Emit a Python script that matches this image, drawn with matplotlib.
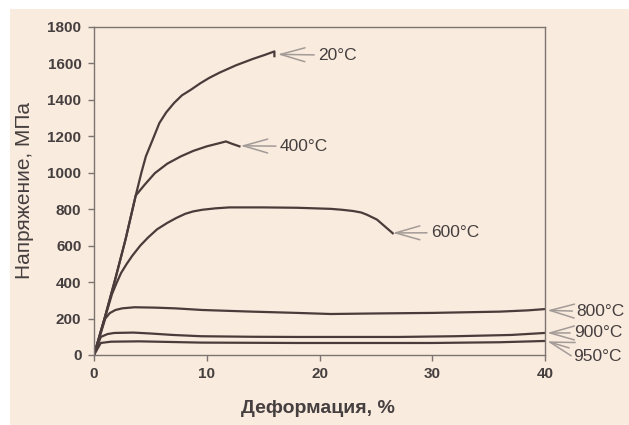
import matplotlib
matplotlib.use("Agg")
import matplotlib.pyplot as plt
from matplotlib.patches import Rectangle

plt.rcParams['font.family'] = ['Liberation Sans', 'DejaVu Sans']

# curves: strain, % / stress, MPa
eps_20 = [0, 1.0, 1.9, 2.8, 3.7, 4.2, 4.6, 5.2, 5.8, 6.4, 7.1, 7.8, 8.6, 9.4, 10.2,
          11.15, 12.6, 14.1, 15.2, 16.0, 16.0]
sig_20 = [0, 215, 420, 635, 875, 1000, 1090, 1181, 1273, 1331, 1383, 1425, 1456, 1490, 1520,
          1550, 1590, 1625, 1648, 1666, 1640]

eps_400 = [0, 1.0, 1.9, 2.8, 3.7, 4.5, 5.4, 6.5, 7.7, 8.8, 10.0, 11.15, 11.7, 12.2, 12.9]
sig_400 = [0, 215, 420, 635, 875, 935, 998, 1050, 1090, 1120, 1145, 1163, 1172, 1160, 1145]

eps_600 = [0, 1.0, 1.6, 2.0, 2.4, 2.9, 3.4, 4.1, 4.8, 5.6, 6.5, 7.3, 8.1, 8.8, 9.6, 10.8,
           12, 15, 18, 21, 22, 23, 23.7, 24.2, 25.1, 26.5]
sig_600 = [0, 210, 335, 395, 450, 500, 545, 600, 645, 690, 725, 752, 775, 788, 797, 805,
           810, 810, 808, 802, 797, 790, 782, 770, 743, 668]

eps_800 = [0, 1.0, 1.4, 1.9, 2.5, 3.6, 5.4, 7.2, 9.6, 14, 18, 21, 25, 30, 36, 38.5, 40]
sig_800 = [0, 200, 230, 247, 256, 262, 260, 256, 247, 238, 231, 225, 228, 231, 238, 245, 252]

eps_900 = [0, 0.6, 1.2, 1.8, 3.5, 5, 7, 9.5, 14, 18, 27, 32, 37, 40]
sig_900 = [0, 99, 115, 121, 123, 118, 110, 103, 100, 99, 99, 103, 110, 121]

eps_950 = [0, 0.6, 1.5, 4, 9.5, 18, 30, 36, 40]
sig_950 = [0, 66, 73, 75, 68, 66, 66, 70, 77]

curves = [(eps_20, sig_20), (eps_400, sig_400), (eps_600, sig_600),
          (eps_800, sig_800), (eps_900, sig_900), (eps_950, sig_950)]

labels = ['20°C', '400°C', '600°C', '800°C', '900°C', '950°C']
label_x = [19.9, 16.5, 29.9, 42.8, 42.6, 42.5]
label_y = [1645, 1145, 671, 237, 121, -8]
tip_x = [16.3, 13.0, 26.5, 40.2, 40.2, 40.2]
tip_y = [1650, 1148, 670, 245, 121, 75]

bg = '#f9ebde'
line_c = '#4a3c3a'
text_c = '#463f3f'
arrow_c = '#a39b97'

fig = plt.figure(figsize=(6.29, 4.25), dpi=100, facecolor=bg)
# white strips of the scanned page
fig.patches.append(Rectangle((0, 1 - 9 / 425), 1, 9 / 425, transform=fig.transFigure,
                             facecolor='white', edgecolor='none'))
fig.patches.append(Rectangle((0, 0), 10 / 629, 1, transform=fig.transFigure,
                             facecolor='white', edgecolor='none'))

ax = fig.add_axes([94 / 629, 70 / 425, 451 / 629, 328 / 425])
ax.set_facecolor(bg)

for eps, sig in curves:
    ax.plot(eps, sig, color=line_c, lw=1.6, solid_joinstyle='round')

for lab, lx, ly, tx, ty in zip(labels, label_x, label_y, tip_x, tip_y):
    ax.annotate(lab, xy=(tx, ty), xytext=(lx, ly), ha='left', va='center',
                fontsize=12.5, color=text_c, annotation_clip=False,
                arrowprops=dict(arrowstyle='->,head_length=1.4,head_width=0.4',
                                color=arrow_c, lw=1.1, shrinkA=1, shrinkB=0))

ax.set_xlim(0, 40)
ax.set_ylim(0, 1800)
ax.set_xticks(range(0, 41, 10))
ax.set_yticks(range(0, 1801, 200))

for s in ax.spines.values():
    s.set_color('#7d7370')
    s.set_linewidth(1.0)

ax.tick_params(axis='both', direction='out', length=4, width=1, color='#7d7370',
               labelcolor=text_c, labelsize=11, pad=5)
for t in ax.get_xticklabels() + ax.get_yticklabels():
    t.set_fontweight('bold')

ax.set_xlabel('Деформация, %', fontsize=14, fontweight='bold', color=text_c)
ax.set_ylabel('Напряжение, МПа', fontsize=15, color=text_c)
ax.xaxis.set_label_coords(0.497, -0.162)
ax.xaxis.label.set_va('center')
ax.yaxis.set_label_coords(-0.153, 0.503)
ax.yaxis.label.set_va('center')

fig.savefig('out.png', dpi=100, facecolor=fig.get_facecolor())
